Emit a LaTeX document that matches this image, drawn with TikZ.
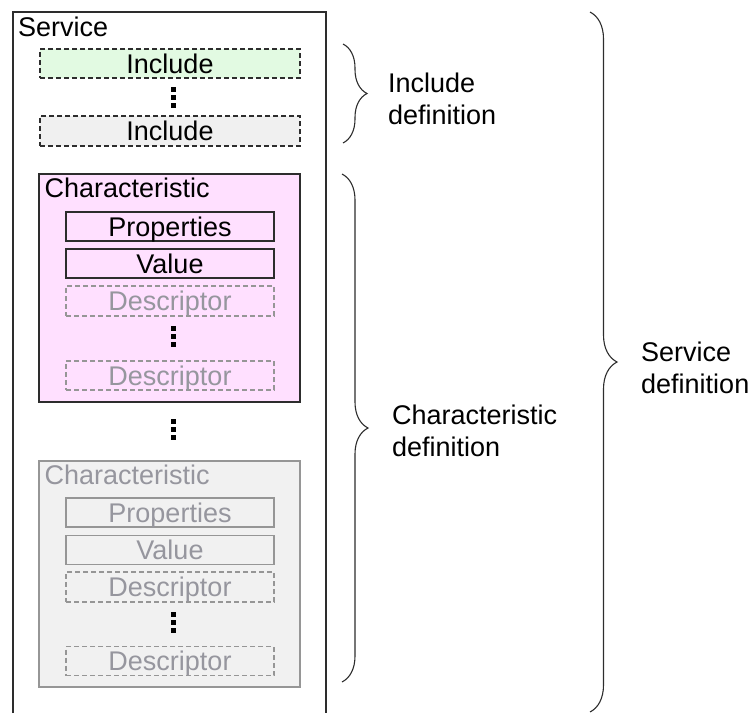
\documentclass[tikz,border=0pt]{standalone}
\usepackage{fontspec}
\setmainfont{Liberation Sans}
\usetikzlibrary{decorations.pathreplacing}

\definecolor{incgreen}{RGB}{226,250,226}
\definecolor{incgray}{RGB}{240,240,240}
\definecolor{charpink}{RGB}{255,224,255}
\definecolor{chargray}{RGB}{241,241,241}
\definecolor{linedark}{RGB}{45,45,45}
\definecolor{linegray}{RGB}{150,150,150}
\definecolor{textgray}{RGB}{150,150,158}

\begin{document}
\begin{tikzpicture}[x=1pt, y=-1pt,
    every node/.style={font=\fontsize{27}{32}\selectfont, inner sep=0pt},
    box/.style={draw=linedark, line width=1.3pt, text height=19pt, text depth=0pt},
    item/.style={box, minimum width=208pt, minimum height=29pt},
    faint/.style={draw=linegray, text=textgray},
    dashbox/.style={dash pattern=on 5pt off 3pt},
    brace/.style={decorate, decoration={brace, amplitude=#1}, line width=1.1pt, draw=linedark},
    threedots/.pic={\foreach \d in {-8,0,8} \fill[black] (-2.5,\d-2.5) rectangle (2.5,\d+2.5);}]

    % Bounding box
    \useasboundingbox (0,0) rectangle (754,713);

    % Service box (open at the bottom)
    \draw[line width=1.5pt, draw=linedark] (13,713) -- (13,12) -- (326,12) -- (326,713);
    \node[anchor=base west] (service) at (18,36) {Service};

    % Includes
    \node[box, dashbox, fill=incgreen, minimum width=260pt, minimum height=29pt] (inc1) at (170,63.5) {Include};
    \pic at (173,97.5) {threedots};
    \node[box, dashbox, fill=incgray, minimum width=260pt, minimum height=30pt] (inc2) at (170,131) {Include};

    % First characteristic
    \node[box, fill=charpink, minimum width=261pt, minimum height=228pt] (char1) at (169.5,288) {};
    \node[anchor=base west] (char1lbl) at ([xshift=6pt,yshift=-24pt]char1.north west) {Characteristic};
    \node[item] (prop1) at (170,226.5) {Properties};
    \node[item] (val1) at (170,263.5) {Value};
    \node[item, faint, dashbox, minimum height=30pt] (desc1a) at (170,301) {Descriptor};
    \pic at (173,336) {threedots};
    \node[item, faint, dashbox] (desc1b) at (170,375.5) {Descriptor};

    \pic at (173,429) {threedots};

    % Second characteristic
    \node[box, faint, fill=chargray, minimum width=261pt, minimum height=226pt] (char2) at (169.5,574) {};
    \node[anchor=base west, text=textgray] (char2lbl) at ([xshift=6pt,yshift=-24pt]char2.north west) {Characteristic};
    \node[item, faint] (prop2) at (170,512.5) {Properties};
    \node[item, faint] (val2) at (170,550) {Value};
    \node[item, faint, dashbox, minimum height=30pt] (desc2a) at (170,587) {Descriptor};
    \pic at (173,622.5) {threedots};
    \node[item, faint, dashbox] (desc2b) at (170,661) {Descriptor};

    % Braces
    \coordinate (incTop) at (343,44);
    \coordinate (incBot) at (343,143);
    \coordinate (charTop) at (342,174);
    \coordinate (charBot) at (342,682);
    \coordinate (servTop) at (590,12);
    \coordinate (servBot) at (590,712);
    \draw[brace=24pt] (incTop) -- (incBot);
    \draw[brace=26pt] (charTop) -- (charBot);
    \draw[brace=27pt] (servTop) -- (servBot);

    % Brace labels
    \node[anchor=north west, align=left] (incdef) at (388,73) {Include\\definition};
    \node[anchor=north west, align=left] (chardef) at (392,405) {Characteristic\\definition};
    \node[anchor=north west, align=left] (servdef) at (641,342) {Service\\definition};
\end{tikzpicture}
\end{document}
